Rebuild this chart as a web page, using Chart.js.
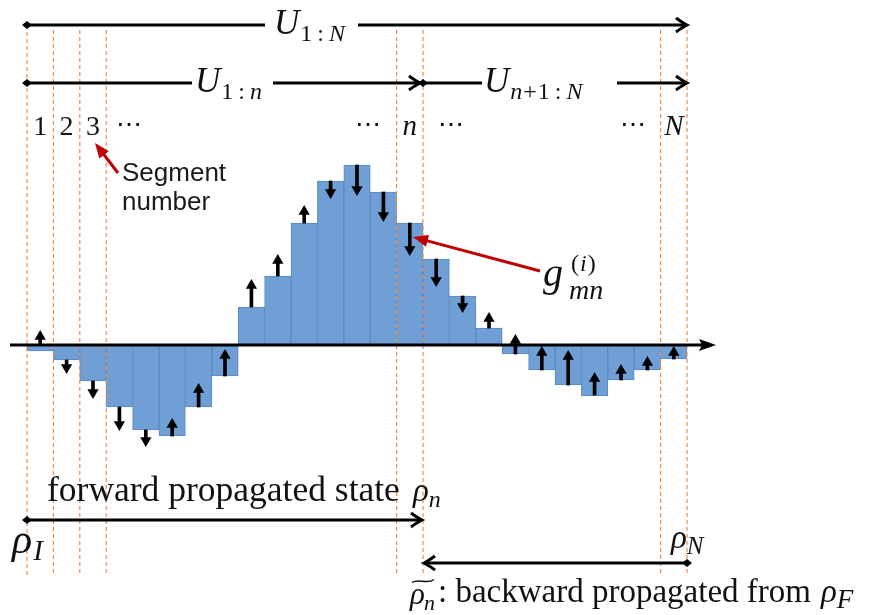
<!DOCTYPE html>
<html><head><meta charset="utf-8">
<script src="https://cdn.jsdelivr.net/npm/chart.js@4.4.1/dist/chart.umd.min.js"></script>
<style>html,body{margin:0;padding:0;background:#fff}#wrap{width:873px;height:615px;position:relative}</style>
</head><body><div id="wrap"><canvas id="c"></canvas></div>
<script>
// ---- data ----
const segments = ['1','2','3','4','5','6','7','8','9','10','11','12','13','14','15','16','17','18','19','20','21','22','23','24','25'];
const gValues  = [-6,-15,-36,-62,-85,-91,-62,-31,38,69,122,164,180,153,122,86,49,17,-9,-25,-40,-51,-35,-25,-14];
const gradTail = [0,-15,-36,-62,-85,-91,-62,-31,38,69,122,164,180,153,122,86,49,17,-9,-25,-40,-50,-35,-25,-14];
const gradHead = [15,-29,-54,-86,-102,-73,-38,-4,66,91,140,146,149,123,89,58,32,33,11,-1,-5,-27,-19,-11,-1];
const segLabelText = ['1','2','3','\u22EF','\u22EF','n','\u22EF','\u22EF','N'];
const segLabelAt   = [0,1,2,3.36,12.42,14,15.56,22.45,24];
const dashEdges = [0,1,2,3,14,15,24,25];

const R = 6.5;
const dir = gradTail.map((t,i)=> gradHead[i] > t ? 1 : -1);
const LS = '"Liberation Serif", "DejaVu Serif", serif';

function drawRun(ctx, x, y, pieces){
  for (const p of pieces){
    ctx.font = p.f;
    x += (p.dx||0);
    ctx.fillText(p.t, x, y + (p.dy||0));
    x += ctx.measureText(p.t).width;
  }
  return x;
}
function seg(ctx,x1,y1,x2,y2,w,c){ctx.save();ctx.strokeStyle=c||'#000';ctx.lineWidth=w||3;ctx.lineCap='butt';ctx.beginPath();ctx.moveTo(x1,y1);ctx.lineTo(x2,y2);ctx.stroke();ctx.restore();}
function chevron(ctx,x,y,d){ctx.save();ctx.strokeStyle='#000';ctx.lineWidth=3;ctx.lineJoin='miter';ctx.beginPath();
  ctx.moveTo(x-d*11,y-7);ctx.quadraticCurveTo(x-d*4,y-2,x,y);ctx.quadraticCurveTo(x-d*4,y+2,x-d*11,y+7);ctx.stroke();ctx.restore();}
function diamond(ctx,x,y,s){ctx.save();ctx.fillStyle='#000';ctx.beginPath();ctx.moveTo(x-s,y);ctx.lineTo(x,y-s*0.8);ctx.lineTo(x+s,y);ctx.lineTo(x,y+s*0.8);ctx.closePath();ctx.fill();ctx.restore();}
function redArrow(ctx,x1,y1,x2,y2){
  const a=Math.atan2(y2-y1,x2-x1), L=15, W=6;
  const bx=x2-Math.cos(a)*L, by=y2-Math.sin(a)*L;
  seg(ctx,x1,y1,bx+Math.cos(a)*3,by+Math.sin(a)*3,3,'#c00000');
  ctx.save();ctx.fillStyle='#c00000';ctx.beginPath();ctx.moveTo(x2,y2);
  ctx.lineTo(bx+Math.sin(a)*W,by-Math.cos(a)*W);ctx.lineTo(bx-Math.sin(a)*W,by+Math.cos(a)*W);ctx.closePath();ctx.fill();ctx.restore();
}
function tilde(ctx,x,y,w){ctx.save();ctx.strokeStyle='#111';ctx.lineWidth=1.5;ctx.beginPath();
  ctx.moveTo(x,y+1.5);ctx.bezierCurveTo(x+w*0.3,y-3,x+w*0.7,y+4,x+w,y-1.5);ctx.stroke();ctx.restore();}

const decor = {
  id:'decor',
  afterDatasetsDraw(chart){
    const ctx = chart.ctx, xs = chart.scales.x, ys = chart.scales.y;
    const X = v => xs.getPixelForValue(v);
    const E = i => xs.getPixelForValue(i - 0.5);
    const Y = v => ys.getPixelForValue(v);
    ctx.save();
    // dashed segment boundaries
    ctx.strokeStyle = '#ef8a48'; ctx.lineWidth = 1.2; ctx.setLineDash([4,3]);
    dashEdges.forEach((e,k)=>{
      const x = E(e);
      ctx.beginPath(); ctx.moveTo(x, k===0 ? Y(320) : Y(315)); ctx.lineTo(x, Y(-230)); ctx.stroke();
    });
    ctx.setLineDash([]);
    // horizontal axis with arrow
    const y0 = Y(0);
    seg(ctx, 10, y0, 703, y0, 3);
    ctx.fillStyle='#000'; ctx.beginPath(); ctx.moveTo(716,y0); ctx.lineTo(699,y0-6); ctx.lineTo(702,y0); ctx.lineTo(699,y0+6); ctx.closePath(); ctx.fill();

    ctx.fillStyle = '#111'; ctx.textBaseline = 'alphabetic';
    // U_{1:N}
    const yT = Y(320);
    seg(ctx, E(0), yT, 265, yT, 3); seg(ctx, 358, yT, E(25)-1, yT, 3);
    diamond(ctx, E(0), yT, 5); chevron(ctx, E(25), yT, 1);
    drawRun(ctx, 274, 34, [{t:'U',f:'italic 35px '+LS},{t:'1',f:'24px '+LS,dy:7,dx:1},{t:':',f:'24px '+LS,dy:7,dx:5},{t:'N',f:'italic 24px '+LS,dy:7,dx:5}]);
    // U_{1:n}, U_{n+1:N}
    const y2 = Y(262);
    seg(ctx, E(0), y2, 192, y2, 3); seg(ctx, 273, y2, E(15)-3, y2, 3);
    diamond(ctx, E(0), y2, 5); chevron(ctx, E(15)-3, y2, 1);
    seg(ctx, E(15), y2, 482, y2, 3); seg(ctx, 617, y2, E(25)-1, y2, 3);
    diamond(ctx, E(15), y2, 5); chevron(ctx, E(25), y2, 1);
    drawRun(ctx, 195, 92, [{t:'U',f:'italic 35px '+LS},{t:'1',f:'24px '+LS,dy:7,dx:1},{t:':',f:'24px '+LS,dy:7,dx:5},{t:'n',f:'italic 24px '+LS,dy:7,dx:5}]);
    drawRun(ctx, 484, 92, [{t:'U',f:'italic 35px '+LS},{t:'n',f:'italic 24px '+LS,dy:7,dx:1},{t:'+',f:'24px '+LS,dy:7,dx:1},{t:'1',f:'24px '+LS,dy:7,dx:1},{t:':',f:'24px '+LS,dy:7,dx:5},{t:'N',f:'italic 24px '+LS,dy:7,dx:5}]);
    // segment numbers
    ctx.textAlign = 'center';
    segLabelText.forEach((t,i)=>{
      const isDots = t === '\u22EF';
      ctx.font = (t==='n'||t==='N' ? 'italic 29px ' : isDots ? '26px ' : '28px ') + (isDots ? '"DejaVu Serif", serif' : LS);
      ctx.fillText(t, X(segLabelAt[i]), isDots ? Y(212) : Y(210));
    });
    ctx.textAlign = 'left';
    // Segment number annotation
    ctx.font = '26px "Liberation Sans", Arial, sans-serif'; ctx.fillStyle = '#1a1a1a';
    ctx.fillText('Segment', 122, 181); ctx.fillText('number', 122, 210);
    redArrow(ctx, 118, 173, 95, 143);
    // g label
    ctx.fillStyle = '#111';
    drawRun(ctx, 543, 286, [{t:'g',f:'italic 40px '+LS}]);
    drawRun(ctx, 571, 271, [{t:'(',f:'24px '+LS},{t:'i',f:'italic 24px '+LS,dx:1},{t:')',f:'24px '+LS,dx:1}]);
    drawRun(ctx, 569, 299, [{t:'mn',f:'italic 28px '+LS}]);
    redArrow(ctx, 540, 271, 413, 237);
    // forward propagated
    drawRun(ctx, 47, 501, [{t:'forward propagated state',f:'35.5px '+LS}]);
    drawRun(ctx, 413, 501, [{t:'\u03C1',f:'italic 33px '+LS},{t:'n',f:'italic 24px '+LS,dy:6}]);
    const yF = Y(-175);
    seg(ctx, E(0), yF, E(15)-3, yF, 3); diamond(ctx, E(0), yF, 5); chevron(ctx, E(15)-1, yF, 1);
    drawRun(ctx, 12, 553, [{t:'\u03C1',f:'italic 42px '+LS},{t:'I',f:'italic 29px '+LS,dy:7,dx:1}]);
    // backward
    const yB = Y(-218);
    seg(ctx, E(15)+3, yB, E(25), yB, 3); diamond(ctx, E(25), yB, 5); chevron(ctx, E(15)+1, yB, -1);
    drawRun(ctx, 671, 548, [{t:'\u03C1',f:'italic 33px '+LS},{t:'N',f:'italic 25px '+LS,dy:6}]);
    drawRun(ctx, 410, 604, [{t:'\u03C1',f:'italic 31px '+LS},{t:'n',f:'italic 22px '+LS,dy:6,dx:-1}]);
    tilde(ctx, 412, 581, 22);
    drawRun(ctx, 438, 602, [{t:': backward propagated from',f:'33px '+LS}]);
    drawRun(ctx, 821, 602, [{t:'\u03C1',f:'italic 33px '+LS},{t:'F',f:'italic 27px '+LS,dy:6}]);
    ctx.restore();
  }
};

new Chart(document.getElementById('c'), {
  type: 'bar',
  data: {
    labels: segments,
    datasets: [
      {type:'line', data: gradHead.map((h,i)=>h-dir[i]*R), showLine:false, pointStyle:'triangle', pointRadius:R, pointHoverRadius:R,
       pointRotation: dir.map(d=> d>0 ? 0 : 180), pointBackgroundColor:'#000', pointBorderColor:'#000', pointBorderWidth:0, order:1},
      {type:'bar', data: gradTail.map((t,i)=>[t, gradHead[i]-dir[i]*R]), backgroundColor:'#000', barThickness:3, grouped:false, order:2},
      {type:'bar', data: gValues, backgroundColor:'#6f9fd5', borderColor:'#5a89c3', borderWidth:1, borderSkipped:false,
       barPercentage:1, categoryPercentage:1, grouped:false, order:3}
    ]
  },
  options: {
    responsive:true, maintainAspectRatio:false, animation:false,
    layout:{autoPadding:false, padding:{left:27,right:186,top:0,bottom:0}},
    plugins:{legend:{display:false}, tooltip:{enabled:false}},
    scales:{
      x:{display:false, offset:true},
      y:{display:false, min:-270, max:345}
    }
  },
  plugins:[decor]
});
</script>
</body></html>
